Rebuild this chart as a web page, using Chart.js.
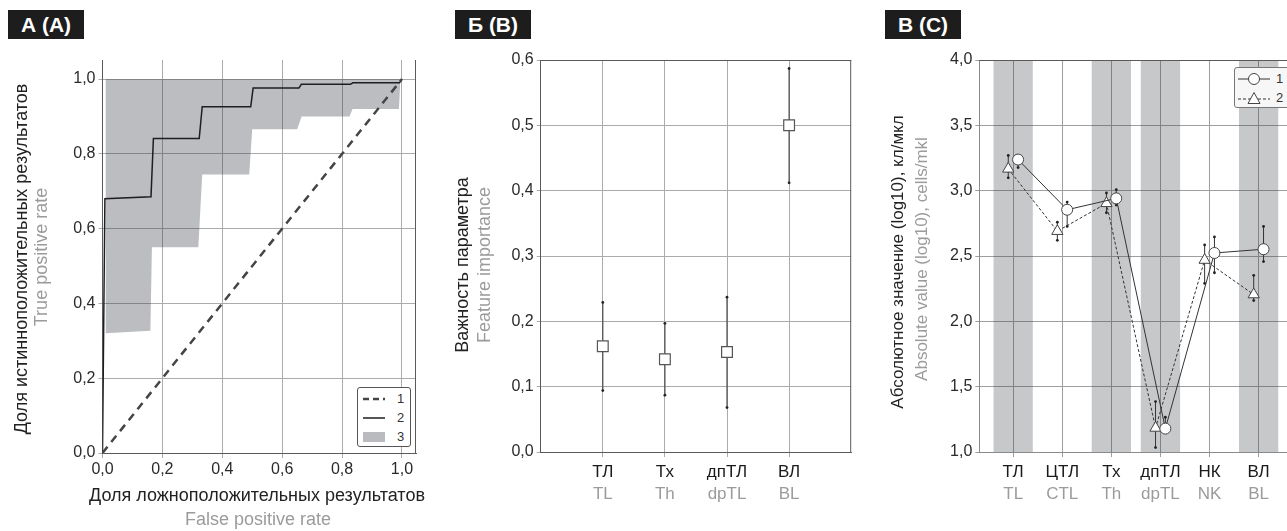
<!DOCTYPE html>
<html>
<head>
<meta charset="utf-8">
<script src="https://cdn.jsdelivr.net/npm/chart.js@4.4.0/dist/chart.umd.min.js"></script>
<style>
  body { margin: 0; width: 1287px; height: 531px; overflow: hidden; position: relative; background: #fff; font-family: "Liberation Sans", Arial, sans-serif; }
  canvas { position: absolute; top: 0; }
  .tag { position: absolute; top: 10px; width: 76px; height: 29px; background: #1d1d1d; color: #fff; font-weight: bold; font-size: 21px; line-height: 29px; text-align: center; }
  .ttl { position: absolute; white-space: nowrap; font-size: 18px; transform: translate(-50%, -50%); }
  .ttl.sm { font-size: 17px; }
  .rot { transform: translate(-50%, -50%) rotate(-90deg); }
  .ru { color: #222; }
  .en { color: #9b9b9b; }
  .legend { position: absolute; background: #fff; border: 1px solid #555; border-radius: 3px; font-size: 13px; color: #333; box-sizing: border-box; }
  .legend div { display: flex; align-items: center; }
</style>
</head>
<body>
<div class="tag" style="left:8px">А (A)</div>
<div class="tag" style="left:455px">Б (B)</div>
<div class="tag" style="left:885px">В (C)</div>

<canvas id="rocChart" width="430" height="531" style="left:0"></canvas>
<canvas id="featChart" width="430" height="531" style="left:430px"></canvas>
<canvas id="cellChart" width="440" height="531" style="left:860px"></canvas>

<div class="ttl rot ru" style="left:21px; top:259px">Доля истинноположительных результатов</div>
<div class="ttl rot en" style="left:41px; top:257px">True positive rate</div>
<div class="ttl ru" style="left:257px; top:495px">Доля ложноположительных результатов</div>
<div class="ttl en" style="left:258px; top:519px">False positive rate</div>

<div class="ttl rot ru" style="left:462px; top:265px">Важность параметра</div>
<div class="ttl rot en" style="left:484px; top:265px">Feature importance</div>

<div class="ttl sm rot ru" style="left:898px; top:262px">Абсолютное значение (log10), кл/мкл</div>
<div class="ttl sm rot en" style="left:922px; top:259px">Absolute value (log10), cells/mkl</div>

<div class="legend" style="left:357px; top:387px; width:54px; height:60px; padding-top:1px">
  <div style="height:19px"><svg width="22" height="6" style="margin:0 12px 0 5px"><line x1="0" y1="3" x2="22" y2="3" stroke="#454545" stroke-width="2.5" stroke-dasharray="6,4"/></svg>1</div>
  <div style="height:19px"><svg width="22" height="6" style="margin:0 12px 0 5px"><line x1="0" y1="3" x2="22" y2="3" stroke="#1e1e1e" stroke-width="1.5"/></svg>2</div>
  <div style="height:19px"><svg width="22" height="12" style="margin:0 12px 0 5px"><rect x="0" y="1" width="22" height="10" fill="#b9bbbe"/></svg>3</div>
</div>

<div class="legend" style="left:1234px; top:67px; width:70px; height:41px; background:#f7f7f7; border-color:#777">
  <div style="height:19px; margin-top:1px"><svg width="32" height="14" style="margin:0 6px 0 3px"><line x1="0" y1="7" x2="32" y2="7" stroke="#333" stroke-width="1"/><circle cx="16" cy="7" r="5.5" fill="#fff" stroke="#444"/></svg>1</div>
  <div style="height:19px"><svg width="32" height="14" style="margin:0 6px 0 3px"><line x1="0" y1="8" x2="32" y2="8" stroke="#333" stroke-width="1" stroke-dasharray="3,2"/><polygon points="16,1.5 22,12.5 10,12.5" fill="#fff" stroke="#444"/></svg>2</div>
</div>

<script>
// ---- А: ROC curve ----
const rocX = [0, 0.008, 0.162, 0.17, 0.323, 0.333, 0.495, 0.503, 0.656, 0.664, 0.828, 0.836, 0.992, 1.0];
const rocY = [0, 0.68, 0.685, 0.841, 0.841, 0.926, 0.926, 0.976, 0.976, 0.986, 0.986, 0.99, 0.99, 1.0];
const bandX = [0.01, 0.16, 0.165, 0.32, 0.333, 0.49, 0.5, 0.65, 0.665, 0.825, 0.835, 0.99, 0.995];
const bandLow = [0.32, 0.327, 0.55, 0.55, 0.745, 0.745, 0.866, 0.866, 0.90, 0.90, 0.92, 0.92, 1.0];
const rateTicks = [0, 0.2, 0.4, 0.6, 0.8, 1.0];

// ---- Б: feature importance ----
const featCats = ['ТЛ', 'Тх', 'дпТЛ', 'ВЛ'];
const featCatsEn = ['TL', 'Th', 'dpTL', 'BL'];
const featMean = [0.162, 0.142, 0.153, 0.500];
const featLow = [0.094, 0.087, 0.068, 0.412];
const featHigh = [0.229, 0.197, 0.237, 0.587];
const featTicks = [0, 0.1, 0.2, 0.3, 0.4, 0.5, 0.6];

// ---- В: absolute counts ----
const cellCats = ['ТЛ', 'ЦТЛ', 'Тх', 'дпТЛ', 'НК', 'ВЛ'];
const cellCatsEn = ['TL', 'CTL', 'Th', 'dpTL', 'NK', 'BL'];
const shadedCats = ['ТЛ', 'Тх', 'дпТЛ', 'ВЛ'];
const g1Mean = [3.238, 2.854, 2.941, 1.179, 2.523, 2.552];
const g1Low = [3.177, 2.726, 2.890, 1.160, 2.372, 2.457];
const g1High = [3.265, 2.913, 3.008, 1.266, 2.646, 2.726];
const g2Mean = [3.167, 2.690, 2.903, 1.184, 2.469, 2.205];
const g2Low = [3.098, 2.620, 2.831, 1.034, 2.290, 2.159];
const g2High = [3.269, 2.759, 2.982, 1.386, 2.585, 2.352];
const cellTicks = [1, 1.5, 2, 2.5, 3, 3.5, 4];

Chart.defaults.font.family = '"Liberation Sans", Arial, sans-serif';
Chart.defaults.font.size = 16;
Chart.defaults.color = '#2a2a2a';

const fmt = v => v.toFixed(1).replace('.', ',');
const setTicks = vals => scale => { scale.ticks = vals.map(v => ({ value: v })); };
const fixW = w => scale => { scale.width = w; };
const fixH = h => scale => { scale.height = h; };
const gridColor = '#ababab';
const axisColor = '#5a5a5a';

// extra sides of the plot frame (top / right)
const framePlugin = {
  id: 'frame',
  afterDraw(chart, args, opts) {
    const { ctx, chartArea: a } = chart;
    ctx.save();
    ctx.strokeStyle = opts.color || axisColor;
    ctx.lineWidth = 1;
    ctx.beginPath();
    (opts.sides || []).forEach(s => {
      if (s === 'top') { ctx.moveTo(a.left, a.top + 0.5); ctx.lineTo(a.right, a.top + 0.5); }
      if (s === 'right') { ctx.moveTo(a.right - 0.5, a.top); ctx.lineTo(a.right - 0.5, a.bottom); }
    });
    ctx.stroke();
    ctx.restore();
  }
};

const baseOpts = (pad, sides) => ({
  responsive: false,
  animation: false,
  events: [],
  layout: { padding: pad },
  plugins: { legend: { display: false }, tooltip: { enabled: false }, frame: { sides } }
});

// whisker segments separated by gaps
const whiskers = (xs, lo, hi) => xs.flatMap((x, i) => [{ x, y: lo[i] }, { x, y: hi[i] }, { x, y: null }]);

// second row of category labels (English), sits under the first
const enAxis = (min, max, vals, names) => ({
  type: 'linear', position: 'bottom', min, max,
  afterBuildTicks: setTicks(vals), afterFit: fixH(49),
  ticks: { callback: v => names[v - 1], padding: 2, color: '#9b9b9b', font: { size: 17 } },
  grid: { display: false, drawTicks: false, tickLength: 0 }, border: { display: false }
});

// ---- chart А ----
new Chart(document.getElementById('rocChart'), {
  type: 'line',
  data: {
    datasets: [
      { data: [{ x: 0, y: 0 }, { x: 1, y: 1 }], borderColor: '#454545', borderWidth: 2.5, borderDash: [8, 6], pointRadius: 0 },
      { data: rocX.map((x, i) => ({ x, y: rocY[i] })), borderColor: '#1e1e1e', borderWidth: 1.5, pointRadius: 0 },
      { data: bandX.map((x, i) => ({ x, y: bandLow[i] })), borderColor: 'transparent', borderWidth: 0, pointRadius: 0,
        fill: { value: 1 }, backgroundColor: 'rgba(45,50,60,0.32)' }
    ]
  },
  options: {
    ...baseOpts({ top: 60, right: 14, left: 0, bottom: 0 }, ['right']),
    scales: {
      x: {
        type: 'linear', min: 0, max: 1.047,
        afterBuildTicks: setTicks(rateTicks), afterFit: fixH(78),
        ticks: { callback: fmt, padding: 2, maxRotation: 0 },
        grid: { color: gridColor, tickLength: 5 }, border: { color: axisColor }
      },
      y: {
        type: 'linear', min: 0, max: 1.051,
        afterBuildTicks: setTicks(rateTicks), afterFit: fixW(102.5),
        ticks: { callback: fmt, padding: 3 },
        grid: { color: gridColor, tickLength: 4 }, border: { color: axisColor }
      }
    }
  },
  plugins: [framePlugin]
});

// ---- chart Б ----
const featX = featCats.map((c, i) => i + 1);
new Chart(document.getElementById('featChart'), {
  type: 'line',
  data: {
    datasets: [
      { data: featX.map((x, i) => ({ x, y: featMean[i] })), showLine: false, pointStyle: 'rect', pointRadius: 7.6,
        pointBackgroundColor: '#fff', pointBorderColor: '#555', pointBorderWidth: 1.2 },
      { data: whiskers(featX, featLow, featHigh), spanGaps: false, borderColor: '#4a4a4a', borderWidth: 1.2,
        pointRadius: 1.4, pointBackgroundColor: '#222', pointBorderWidth: 0 }
    ]
  },
  options: {
    ...baseOpts({ top: 60, right: 5, left: 0, bottom: 0 }, ['top', 'right']),
    scales: {
      x: {
        type: 'linear', min: 0, max: 5, offset: false,
        afterBuildTicks: setTicks(featX), afterFit: fixH(30),
        ticks: { callback: v => featCats[v - 1], padding: 5, color: '#1a1a1a', font: { size: 17 } },
        grid: { color: gridColor, tickLength: 5, offset: false }, border: { color: axisColor }
      },
      x2: enAxis(0, 5, featX, featCatsEn),
      y: {
        type: 'linear', min: 0, max: 0.6,
        afterBuildTicks: setTicks(featTicks), afterFit: fixW(110.7),
        ticks: { callback: fmt, padding: 3 },
        grid: { color: gridColor, tickLength: 4 }, border: { color: axisColor }
      }
    }
  },
  plugins: [framePlugin]
});

// ---- chart В ----
const cellX = cellCats.map((c, i) => i + 1);
const x1 = cellX.map(x => x + 0.1);
const x2 = cellX.map(x => x - 0.1);
new Chart(document.getElementById('cellChart'), {
  type: 'line',
  data: {
    datasets: [
      { data: x1.map((x, i) => ({ x, y: g1Mean[i] })), borderColor: '#333', borderWidth: 1, pointStyle: 'circle', pointRadius: 5.5,
        pointBackgroundColor: '#fff', pointBorderColor: '#444', pointBorderWidth: 1 },
      { data: x2.map((x, i) => ({ x, y: g2Mean[i] })), borderColor: '#333', borderWidth: 1, borderDash: [3, 2], pointStyle: 'triangle',
        pointRadius: 6.5, pointBackgroundColor: '#fff', pointBorderColor: '#444', pointBorderWidth: 1 },
      { data: whiskers(x1, g1Low, g1High), spanGaps: false, borderColor: '#333', borderWidth: 1,
        pointRadius: 1.4, pointBackgroundColor: '#222', pointBorderWidth: 0 },
      { data: whiskers(x2, g2Low, g2High), spanGaps: false, borderColor: '#333', borderWidth: 1,
        pointRadius: 1.4, pointBackgroundColor: '#222', pointBorderWidth: 0 },
      { type: 'bar', data: shadedCats.map(c => ({ x: cellCats.indexOf(c) + 1, y: [1, 4] })),
        backgroundColor: 'rgba(60,64,72,0.29)', categoryPercentage: 0.8, barPercentage: 1, borderWidth: 0 }
    ]
  },
  options: {
    ...baseOpts({ top: 60, right: 5, left: 0, bottom: 0 }, ['top', 'right']),
    scales: {
      x: {
        type: 'linear', min: 0.31, max: 6.69, offset: false,
        afterBuildTicks: setTicks(cellX), afterFit: fixH(30),
        ticks: { callback: v => cellCats[v - 1], padding: 5, color: '#1a1a1a', font: { size: 17 } },
        grid: { color: '#9e9e9e', tickLength: 5, offset: false }, border: { color: '#8a8a8a' }
      },
      x2: enAxis(0.31, 6.69, cellX, cellCatsEn),
      y: {
        type: 'linear', min: 1, max: 4,
        afterBuildTicks: setTicks(cellTicks), afterFit: fixW(119.3),
        ticks: { callback: fmt, padding: 3 },
        grid: { color: '#9e9e9e', tickLength: 4 }, border: { color: '#8a8a8a' }
      }
    }
  },
  plugins: [framePlugin]
});
</script>
</body>
</html>
